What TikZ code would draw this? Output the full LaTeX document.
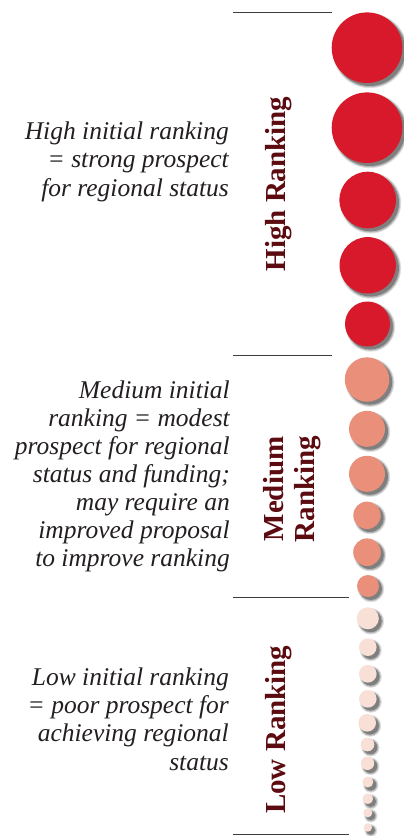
\documentclass[tikz,border=0pt]{standalone}
\usepackage{fontspec}
\setmainfont{Liberation Serif}
\definecolor{hired}{RGB}{215,25,43}
\definecolor{medsal}{RGB}{233,143,122}
\definecolor{lowpink}{RGB}{248,224,215}
\definecolor{labelred}{RGB}{92,12,16}
\definecolor{txtgray}{RGB}{35,31,32}
\definecolor{rulegray}{RGB}{60,60,60}
\newcommand\myball[5]{%
  \fill[black,opacity=0.12] (#2+3,#3+3) circle ({#4pt+2.2pt});
  \fill[black,opacity=0.18] (#2+3,#3+3) circle ({#4pt+1.2pt});
  \fill[black,opacity=0.3] (#2+2.8,#3+2.8) circle ({#4pt+0.2pt});
  \node[ball, fill=#5, minimum size={2*#4pt}] (#1) at (#2,#3) {};
}
\begin{document}
\begin{tikzpicture}[x=1pt,y=-1pt,
  ball/.style={circle, inner sep=0pt, outer sep=0pt, draw=none},
  desc/.style={anchor=base east, inner sep=0pt, text=txtgray,
    font=\itshape\fontsize{25.5}{28}\selectfont},
  rank/.style={rotate=90, inner sep=0pt, text=labelred,
    font=\bfseries\fontsize{29}{31}\selectfont},
  sep/.style={draw=rulegray, line width=0.9pt}]
\useasboundingbox (0,0) rectangle (404,836);
\fill[white] (0,0) rectangle (404,836);

% separators
\coordinate (s1a) at (232.5,12.3);  \coordinate (s1b) at (331.5,12.3);
\coordinate (s2a) at (232.5,355.5); \coordinate (s2b) at (331.5,355.5);
\coordinate (s3a) at (232.5,597.3); \coordinate (s3b) at (348.5,597.3);
\coordinate (s4a) at (232.5,834);   \coordinate (s4b) at (348.5,834);
\draw[sep] (s1a) -- (s1b);
\draw[sep] (s2a) -- (s2b);
\draw[sep] (s3a) -- (s3b);
\draw[sep] (s4a) -- (s4b);

% high circles
\myball{h1}{367}{47.7}{35.3}{hired}
\myball{h2}{367}{127.7}{35.3}{hired}
\myball{h3}{367.7}{200}{28.3}{hired}
\myball{h4}{367.7}{265.3}{28.2}{hired}
\myball{h5}{367.5}{324}{22.5}{hired}
% medium circles
\myball{m1}{367}{379.5}{22.2}{medsal}
\myball{m2}{367}{428.8}{18}{medsal}
\myball{m3}{367}{473.8}{18}{medsal}
\myball{m4}{367}{515.3}{13.7}{medsal}
\myball{m5}{367}{552.2}{13.8}{medsal}
\myball{m6}{368}{586}{11}{medsal}
% low circles
\myball{l1}{367.8}{618.3}{11}{lowpink}
\myball{l2}{367.8}{647.2}{8.8}{lowpink}
\myball{l3}{367.8}{673.8}{8.8}{lowpink}
\myball{l4}{367.8}{698.8}{8.8}{lowpink}
\myball{l5}{367.2}{722.8}{8.8}{lowpink}
\myball{l6}{367.5}{744.5}{6.8}{lowpink}
\myball{l7}{367.5}{763.3}{6.7}{lowpink}
\myball{l8}{367.8}{782}{5.5}{lowpink}
\myball{l9}{367.8}{798.7}{5.3}{lowpink}
\myball{l10}{367.8}{812.8}{4.5}{lowpink}
\myball{l11}{367.8}{827.5}{4.2}{lowpink}

% rank labels
\node[rank, anchor=base] (hr) at (285,184) {High Ranking};
\node[rank, align=center] (mr) at (292.5,489) {Medium\\Ranking};
\node[rank, anchor=base] (lr) at (285,729.7) {Low Ranking};

% descriptions
\node[desc] (hd1) at (229,139.3) {High initial ranking};
\node[desc] (hd2) at (229,167.8) {= strong prospect};
\node[desc] (hd3) at (229,196.3) {for regional status};

\node[desc] (md1) at (230,398.3) {Medium initial};
\node[desc] (md2) at (230,426.4) {ranking = modest};
\node[desc] (md3) at (230,454.4) {prospect for regional};
\node[desc] (md4) at (230,482.5) {status and funding;};
\node[desc] (md5) at (230,510.6) {may require an};
\node[desc] (md6) at (230,538.6) {improved proposal};
\node[desc] (md7) at (230,566.7) {to improve ranking};

\node[desc] (ld1) at (229,685) {Low initial ranking};
\node[desc] (ld2) at (229,713.3) {= poor prospect for};
\node[desc] (ld3) at (229,741.7) {achieving regional};
\node[desc] (ld4) at (229,770) {status};
\end{tikzpicture}
\end{document}
